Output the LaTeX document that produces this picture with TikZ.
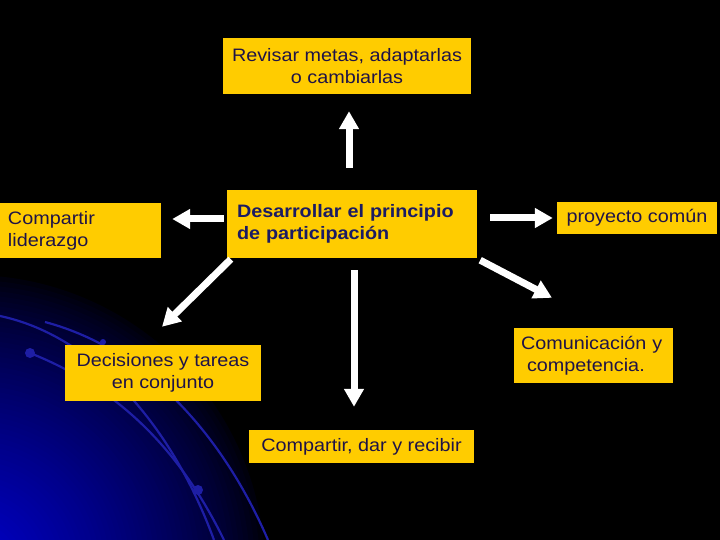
\documentclass[tikz,border=0pt]{standalone}
\usepackage{fontspec}
\setmainfont[FakeStretch=1.1]{Liberation Sans}
\usetikzlibrary{arrows.meta}
\definecolor{boxfill}{HTML}{FFCC00}
\definecolor{boxtext}{HTML}{1F1347}
\definecolor{boldtext}{HTML}{1B1B63}
\definecolor{glowA}{RGB}{0,0,205}
\definecolor{arcblue}{RGB}{30,30,165}
\begin{document}
\begin{tikzpicture}[x=1pt,y=-1pt,
  box/.style={fill=boxfill, text=boxtext, inner sep=0pt, font=\fontsize{18}{22}\selectfont, anchor=center},
  bigarr/.style={draw=white, line width=7pt, -{Triangle[width=19pt,length=18pt]}},
  arcline/.style={draw=arcblue, line width=2.2pt},
  arcdot/.style={fill=arcblue}]
\useasboundingbox (0,0) rectangle (720,540);
\fill[black] (0,0) rectangle (720,540);
\begin{scope}
  \clip (0,0) rectangle (720,540);
  \foreach \r in {300,295,...,5} {
    \pgfmathsetmacro\p{100*(1-\r/300)^0.7}
    \fill[glowA!\p!black] (-30,570) circle (\r);
  }
  \draw[arcline] (0,316) .. controls (90,335) and (170,420) .. (214,540);
  \draw[arcline] (30,353) .. controls (110,385) and (175,440) .. (224,540);
  \draw[arcline] (45,322) .. controls (150,350) and (225,440) .. (268,540);
  \fill[arcdot] (30,353) circle (5);
  \fill[arcdot] (198,490) circle (5);
  \fill[arcdot] (103,342) circle (3);
\end{scope}

\node[box, minimum width=248pt, minimum height=56pt, align=center] (rev) at (347,66) {Revisar metas, adaptarlas\\o cambiarlas};
\node[box, minimum width=161pt, minimum height=55pt, text width=145pt, align=left] (lid) at (80.5,230.5) {Compartir\\liderazgo};
\node[box, minimum width=250pt, minimum height=68pt, text width=230pt, align=left, text=boldtext, font=\fontsize{18}{22}\selectfont\bfseries] (des) at (352,224) {Desarrollar el principio\\de participación};
\node[box, minimum width=160pt, minimum height=32pt, align=center] (pro) at (637,218) {proyecto común};
\node[box, minimum width=159pt, minimum height=55pt, text width=145pt, align=left] (com) at (593.5,355.5) {Comunicación y\\\hspace*{6pt}competencia.};
\node[box, minimum width=196pt, minimum height=56pt, align=center] (dec) at (163,373) {Decisiones y tareas\\en conjunto};
\node[box, minimum width=225pt, minimum height=33pt, align=center] (cdr) at (361.5,446.5) {Compartir, dar y recibir};

\draw[bigarr] ([shift={(-3,-22)}]des.north) -- ([shift={(2,17)}]rev.south);
\draw[bigarr] ([shift={(-3,-5)}]des.west) -- ([shift={(11,-11.5)}]lid.east);
\draw[bigarr] ([shift={(4,1)}]des.south west) -- ([shift={(-1,-18)}]dec.north);
\draw[bigarr] ([shift={(2,12)}]des.south) -- ([shift={(-7.5,-23)}]cdr.north);
\draw[bigarr] ([shift={(13,-6)}]des.east) -- ([shift={(-4,0)}]pro.west);
\draw[bigarr] ([shift={(3,2)}]des.south east) -- ([shift={(-41.5,-30)}]com.north);
\end{tikzpicture}
\end{document}
